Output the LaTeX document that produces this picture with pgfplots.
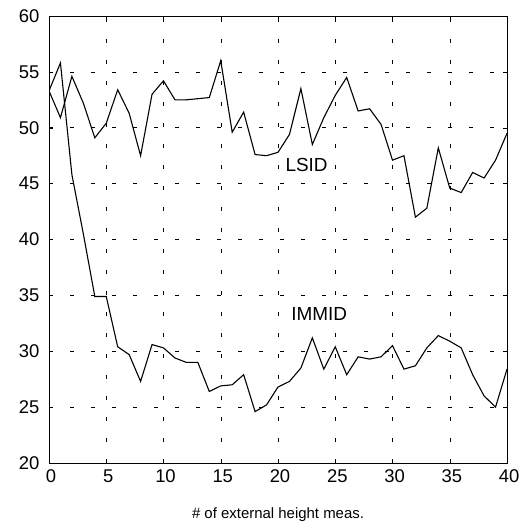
\documentclass[border=0pt]{standalone}
\usepackage{pgfplots}
\pgfplotsset{compat=1.18}
\usepackage{pgfplotstable}
\usepackage{fontspec}
\setmainfont{Liberation Sans}

\pgfplotstableread{
x y
0 53.3
1 50.9
2 54.6
3 52.2
4 49.1
5 50.4
6 53.4
7 51.3
8 47.5
9 53.0
10 54.2
11 52.5
12 52.5
13 52.6
14 52.7
15 56.0
16 49.6
17 51.4
18 47.6
19 47.5
20 47.8
21 49.4
22 53.5
23 48.5
24 50.9
25 52.9
26 54.5
27 51.5
28 51.7
29 50.3
30 47.1
31 47.5
32 42.0
33 42.8
34 48.2
35 44.6
36 44.2
37 46.0
38 45.5
39 47.1
40 49.5
}\lsid

\pgfplotstableread{
x y
0 53.3
1 55.8
2 45.8
3 40.5
4 34.9
5 34.9
6 30.4
7 29.7
8 27.3
9 30.6
10 30.3
11 29.4
12 29.0
13 29.0
14 26.4
15 26.9
16 27.0
17 27.9
18 24.6
19 25.2
20 26.8
21 27.3
22 28.5
23 31.2
24 28.4
25 30.4
26 27.9
27 29.5
28 29.3
29 29.5
30 30.5
31 28.4
32 28.7
33 30.3
34 31.4
35 30.9
36 30.3
37 27.9
38 26.0
39 25.0
40 28.4
}\immid

\begin{document}
\begin{tikzpicture}
\useasboundingbox (-49bp,-69bp) rectangle (476bp,463bp);
\begin{axis}[
  at={(0,0)}, anchor=south west,
  scale only axis, width=458bp, height=447bp,
  xmin=0, xmax=40, ymin=20, ymax=60,
  xtick={0,5,...,40}, ytick={20,25,...,60},
  tick align=inside, major tick length=4bp,
  tick style={black, line width=0.4pt},
  grid=major,
  major grid style={black, line width=0.5pt, dash pattern=on 4bp off 17bp},
  axis line style={line width=0.7pt},
  /pgf/number format/assume math mode=true,
  tick label style={font=\fontsize{18.5}{20}\selectfont},
  yticklabel style={xshift=-6bp},
  xticklabel style={yshift=-3bp, xshift=2bp},
  xlabel={\# of external height meas.},
  xlabel style={font=\fontsize{15}{17}\selectfont, yshift=-18bp},
]
\addplot[black, line width=1.1pt, mark=none] table[x=x, y=y] {\lsid};
\addplot[black, line width=1.1pt, mark=none] table[x=x, y=y] {\immid};
\node[font=\fontsize{19}{21}\selectfont] at (axis cs:22.5,46.7) {LSID};
\node[font=\fontsize{19}{21}\selectfont] at (axis cs:23.6,33.3) {IMMID};
\end{axis}
\end{tikzpicture}
\end{document}
